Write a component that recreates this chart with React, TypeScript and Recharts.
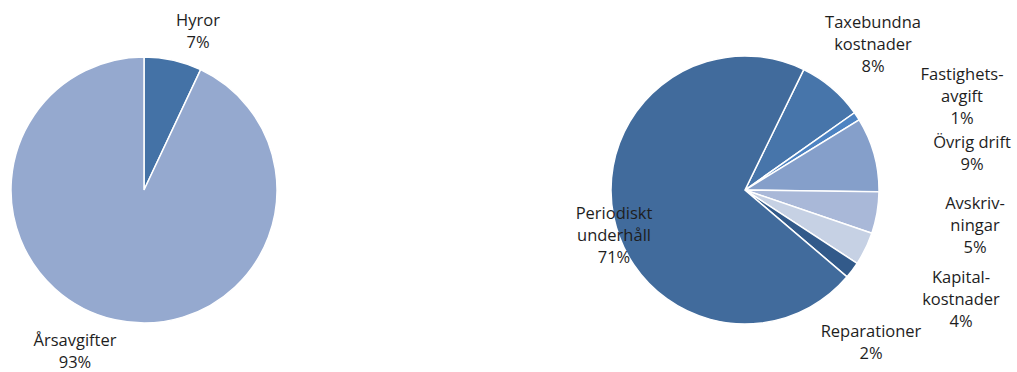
import { PieChart, Pie, Cell } from "recharts";

// left pie: hyresintäkter
const incomeNames = ["Hyror", "Årsavgifter"];
const incomeValues = [7, 93];
const incomeLines = [["Hyror"], ["Årsavgifter"]];

// right pie: kostnader
const costNames = [
    "Taxebundna kostnader",
    "Fastighetsavgift",
    "Övrig drift",
    "Avskrivningar",
    "Kapitalkostnader",
    "Reparationer",
    "Periodiskt underhåll",
];
const costValues = [8, 1, 9, 5, 4, 2, 71];
const costLines = [
    ["Taxebundna", "kostnader"],
    ["Fastighets-", "avgift"],
    ["Övrig drift"],
    ["Avskriv-", "ningar"],
    ["Kapital-", "kostnader"],
    ["Reparationer"],
    ["Periodiskt", "underhåll"],
];

const incomeColors = ["#4472a6", "#95a9cf"];
const costColors = ["#4775aa", "#4d83c2", "#859fca", "#a9b8d8", "#c6d1e4", "#325a8a", "#416b9c"];

// label block centres, relative to pie centre
const incomeLabelPos = [[54, -160], [-69, 160]];
const costLabelPos = [[128, -147], [217, -95], [227, -38], [230, 34], [216, 108], [126, 151], [-131, 44]];

const LINE_H = 22.3;

const makeLabel = (lines: string[][], pos: number[][]) => (props: any) => {
    const { cx, cy, index, value } = props;
    const all = [...lines[index], `${value}%`];
    const x = cx + pos[index][0];
    const y0 = cy + pos[index][1] - ((all.length - 1) * LINE_H) / 2;
    return (
        <text
            x={x}
            y={y0}
            textAnchor="middle"
            dominantBaseline="central"
            fill="#1e1e1e"
            fontSize={16.5}
            fontFamily="'Open Sans', sans-serif"
        >
            {all.map((t, i) => (
                <tspan key={i} x={x} y={y0 + i * LINE_H}>
                    {t}
                </tspan>
            ))}
        </text>
    );
};

const App = () => {
    const incomeData = incomeNames.map((name, i) => ({ name, value: incomeValues[i] }));
    const costData = costNames.map((name, i) => ({ name, value: costValues[i] }));

    return (
        <div style={{ position: "absolute", left: 0, top: 0, background: "#fff" }}>
            <PieChart width={1017} height={372} margin={{ top: 0, right: 0, bottom: 0, left: 0 }}>
                <Pie
                    data={incomeData}
                    dataKey="value"
                    nameKey="name"
                    cx={144}
                    cy={190}
                    outerRadius={133}
                    startAngle={90}
                    endAngle={-270}
                    stroke="#fff"
                    strokeWidth={1.5}
                    labelLine={false}
                    label={makeLabel(incomeLines, incomeLabelPos)}
                    isAnimationActive={false}
                >
                    {incomeData.map((_, i) => (
                        <Cell key={i} fill={incomeColors[i]} />
                    ))}
                </Pie>
                <Pie
                    data={costData}
                    dataKey="value"
                    nameKey="name"
                    cx={745}
                    cy={190}
                    outerRadius={134}
                    startAngle={64}
                    endAngle={-296}
                    stroke="#fff"
                    strokeWidth={1.5}
                    labelLine={false}
                    label={makeLabel(costLines, costLabelPos)}
                    isAnimationActive={false}
                >
                    {costData.map((_, i) => (
                        <Cell key={i} fill={costColors[i]} />
                    ))}
                </Pie>
            </PieChart>
        </div>
    );
};

export default App;
